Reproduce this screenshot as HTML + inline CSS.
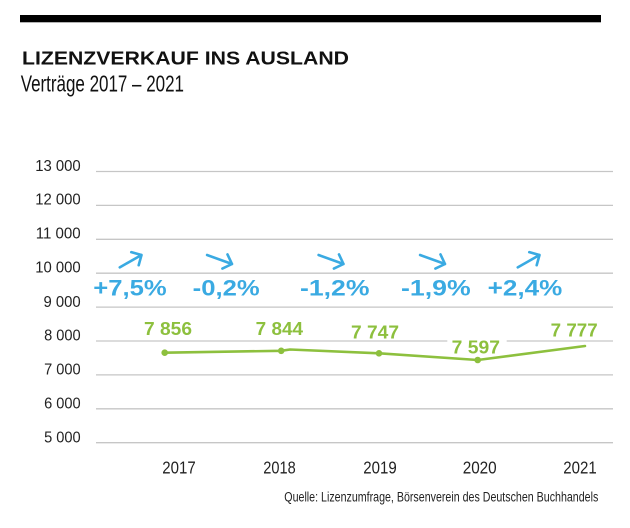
<!DOCTYPE html>
<html>
<head>
<meta charset="utf-8">
<style>
  html, body { margin: 0; padding: 0; background: #ffffff; }
  svg { display: block; }
  text { font-family: "Liberation Sans", sans-serif; }
</style>
</head>
<body>
<svg width="630" height="528" viewBox="0 0 630 528" xmlns="http://www.w3.org/2000/svg">
  <rect x="0" y="0" width="630" height="528" fill="#ffffff"/>
  <!-- top bar -->
  <rect x="20" y="15" width="581" height="7.3" fill="#000000"/>

  <!-- title -->
  <text x="22" y="64.3" font-size="18.5" font-weight="bold" fill="#111" textLength="327" lengthAdjust="spacingAndGlyphs">LIZENZVERKAUF INS AUSLAND</text>
  <text x="20.7" y="91.7" font-size="23" fill="#111" textLength="163.3" lengthAdjust="spacingAndGlyphs">Verträge 2017 – 2021</text>

  <!-- gridlines -->
  <g stroke="#c6c6c6" stroke-width="1.3">
    <line x1="96" y1="171.5" x2="613" y2="171.5"/>
    <line x1="96" y1="205.4" x2="613" y2="205.4"/>
    <line x1="96" y1="239.3" x2="613" y2="239.3"/>
    <line x1="96" y1="273.2" x2="613" y2="273.2"/>
    <line x1="96" y1="307.1" x2="613" y2="307.1"/>
    <line x1="96" y1="341.0" x2="613" y2="341.0"/>
    <line x1="96" y1="374.9" x2="613" y2="374.9"/>
    <line x1="96" y1="408.8" x2="613" y2="408.8"/>
    <line x1="96" y1="442.7" x2="613" y2="442.7"/>
  </g>

  <!-- y labels -->
  <g font-size="16" fill="#222" text-anchor="end">
    <text x="80.7" y="170.8" textLength="45.5" lengthAdjust="spacingAndGlyphs">13 000</text>
    <text x="80.7" y="204.7" textLength="45.5" lengthAdjust="spacingAndGlyphs">12 000</text>
    <text x="80.7" y="238.6" textLength="45" lengthAdjust="spacingAndGlyphs">11 000</text>
    <text x="80.7" y="272.5" textLength="45.5" lengthAdjust="spacingAndGlyphs">10 000</text>
    <text x="80.7" y="306.8" textLength="37.2" lengthAdjust="spacingAndGlyphs">9 000</text>
    <text x="80.7" y="340.7" textLength="36.6" lengthAdjust="spacingAndGlyphs">8 000</text>
    <text x="80.7" y="374.6" textLength="36.6" lengthAdjust="spacingAndGlyphs">7 000</text>
    <text x="80.7" y="408.5" textLength="36.6" lengthAdjust="spacingAndGlyphs">6 000</text>
    <text x="80.7" y="442.4" textLength="36.6" lengthAdjust="spacingAndGlyphs">5 000</text>
  </g>

  <!-- arrows -->
  <g stroke="#3aaae2" stroke-width="2.6" fill="none" stroke-linecap="round" stroke-linejoin="round">
    <g transform="translate(141.5,255) rotate(-29.6)"><path d="M-25,0 L0,0 M-7.5,-7.5 L0,0 L-7.5,7.5"/></g>
    <g transform="translate(232,264) rotate(19.8)"><path d="M-26.5,0 L0,0 M-7.5,-7.5 L0,0 L-7.5,7.5"/></g>
    <g transform="translate(343.5,264) rotate(19.8)"><path d="M-26.5,0 L0,0 M-7.5,-7.5 L0,0 L-7.5,7.5"/></g>
    <g transform="translate(445,264) rotate(19.8)"><path d="M-26.5,0 L0,0 M-7.5,-7.5 L0,0 L-7.5,7.5"/></g>
    <g transform="translate(539.5,255) rotate(-29.6)"><path d="M-25,0 L0,0 M-7.5,-7.5 L0,0 L-7.5,7.5"/></g>
  </g>

  <!-- percentages -->
  <g font-size="22" font-weight="bold" fill="#3aaae2">
    <text x="93.3" y="295.5" textLength="73.4" lengthAdjust="spacingAndGlyphs">+7,5%</text>
    <text x="192.7" y="295.5" textLength="67" lengthAdjust="spacingAndGlyphs">-0,2%</text>
    <text x="300" y="295.5" textLength="69.5" lengthAdjust="spacingAndGlyphs">-1,2%</text>
    <text x="401" y="295.5" textLength="69.7" lengthAdjust="spacingAndGlyphs">-1,9%</text>
    <text x="487.7" y="295.5" textLength="74.6" lengthAdjust="spacingAndGlyphs">+2,4%</text>
  </g>

  <!-- white background behind 7597 label -->
  <rect x="447.3" y="336" width="59.4" height="10" fill="#ffffff"/>

  <!-- line series -->
  <polyline points="164.7,352.7 281.2,350.8 290,349.5 379,353.3 477.7,360 585,346" fill="none" stroke="#8dc03e" stroke-width="2.6" stroke-linejoin="round" stroke-linecap="round"/>
  <g fill="#8dc03e">
    <circle cx="164.7" cy="352.7" r="3.3"/>
    <circle cx="281.2" cy="350.8" r="3.3"/>
    <circle cx="379" cy="353.3" r="3.3"/>
    <circle cx="477.7" cy="360" r="3.3"/>
  </g>

  <!-- value labels -->
  <g font-size="18.5" font-weight="bold" fill="#8dc03e">
    <text x="144" y="335" textLength="48" lengthAdjust="spacingAndGlyphs">7 856</text>
    <text x="255.7" y="335" textLength="47.3" lengthAdjust="spacingAndGlyphs">7 844</text>
    <text x="351" y="338.7" textLength="48" lengthAdjust="spacingAndGlyphs">7 747</text>
    <text x="451.7" y="353.3" textLength="48.3" lengthAdjust="spacingAndGlyphs">7 597</text>
    <text x="550.7" y="336.7" textLength="47" lengthAdjust="spacingAndGlyphs">7 777</text>
  </g>

  <!-- year labels -->
  <g font-size="17.5" fill="#222">
    <text x="162.3" y="473.3" textLength="33.4" lengthAdjust="spacingAndGlyphs">2017</text>
    <text x="263.3" y="473.3" textLength="32.4" lengthAdjust="spacingAndGlyphs">2018</text>
    <text x="363.3" y="473.3" textLength="33.4" lengthAdjust="spacingAndGlyphs">2019</text>
    <text x="462.7" y="473.3" textLength="34" lengthAdjust="spacingAndGlyphs">2020</text>
    <text x="563.3" y="473.3" textLength="33.4" lengthAdjust="spacingAndGlyphs">2021</text>
  </g>

  <!-- source -->
  <text x="284.3" y="501.7" font-size="13.5" fill="#222" textLength="314" lengthAdjust="spacingAndGlyphs">Quelle: Lizenzumfrage, Börsenverein des Deutschen Buchhandels</text>
</svg>
</body>
</html>
